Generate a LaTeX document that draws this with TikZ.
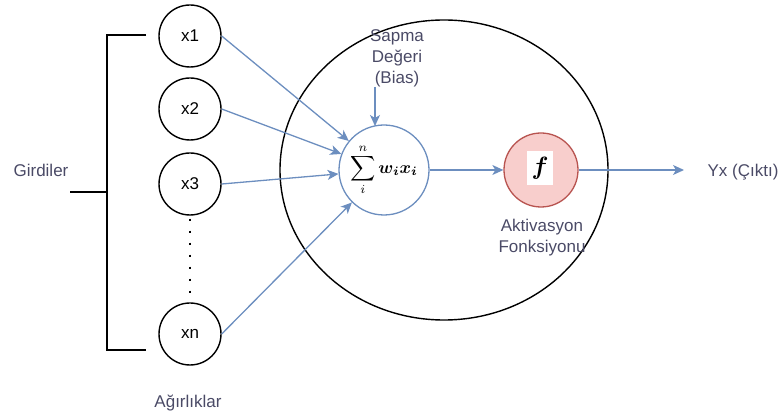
\documentclass[tikz,border=0pt]{standalone}
\usepackage{graphicx}
\usepackage{amsmath}
\usepackage{fontspec}
\setmainfont{Liberation Sans}
\usetikzlibrary{arrows.meta,shapes.geometric}
\definecolor{txt}{HTML}{4A4A66}
\definecolor{edgeblue}{HTML}{6C8EBF}
\definecolor{redfill}{HTML}{F8CECC}
\definecolor{redline}{HTML}{B85450}
\tikzset{
  label text/.style={text=txt, font=\fontsize{17}{21}\selectfont, align=center, inner sep=0pt},
  inputnode/.style={circle, draw=black, line width=1.4pt, minimum size=62pt, inner sep=0pt,
                    font=\fontsize{17}{20}\selectfont},
  flow/.style={draw=edgeblue, line width=1.3pt, -{Stealth[length=11pt, width=10pt, inset=3pt]}},
  bracket/.style={draw=black, line width=2.2pt},
}
\begin{document}
\begin{tikzpicture}[x=1pt, y=-1pt]
  \useasboundingbox (0,0) rectangle (782,419);

  % neuron boundary
  \node (neuron) [ellipse, draw=black, line width=1.4pt, minimum width=328pt, minimum height=300pt,
        inner sep=0pt] at (444,170) {};

  % inputs
  \node (x1) [inputnode] at (190,36) {x1};
  \node (x2) [inputnode] at (190,109) {x2};
  \node (x3) [inputnode] at (190,184) {x3};
  \node (xn) [inputnode] at (190,334) {xn};
  \coordinate (dtop) at ([yshift=-3pt]x3.south);
  \draw [line width=2.6pt, dash pattern=on 2.6pt off 9.4pt] (dtop) -- (xn.north);

  % bracket grouping the inputs
  \coordinate (bt) at (107,35);
  \coordinate (bb) at (107,350);
  \coordinate (bm) at (107,192);
  \coordinate (btr) at (146,35);
  \coordinate (bbr) at (146,350);
  \coordinate (bml) at (70,192);
  \draw [bracket] (btr) -- (bt) -- (bb) -- (bbr);
  \draw [bracket] (bml) -- (bm);
  \node (girdiler) [label text] at (41,170) {Girdiler};

  % weighted sum
  \node (sum) [circle, draw=edgeblue, fill=white, line width=1.3pt, minimum size=90pt, inner sep=0pt]
        at (384,170) {\scalebox{1.75}{$\displaystyle\sum_{i}^{n} \boldsymbol{w_i x_i}$}};

  % activation
  \node (act) [circle, draw=redline, fill=redfill, line width=1.3pt, minimum size=74pt, inner sep=0pt]
        at (541,170) {};
  \node (fbox) [fill=white, minimum width=26pt, minimum height=34pt, inner sep=0pt] at (540,168)
        {\scalebox{2.5}{$\boldsymbol{f}$}};

  % labels
  \node (bias) [label text] at (397,58) {Sapma\\Değeri\\(Bias)};
  \node (actlabel) [label text] at (542,238) {Aktivasyon\\Fonksiyonu};
  \node (out) [label text] at (743,172) {Yx (Çıktı)};
  \node (agir) [label text] at (188,403) {Ağırlıklar};

  % connectors
  \draw [flow] (x1.east) -- (sum);
  \draw [flow] (x2.east) -- (sum);
  \draw [flow] (x3.east) -- (sum);
  \draw [flow] (xn.east) -- (sum);
  \coordinate (bstart) at (375,87);
  \coordinate (bend) at (375,126);
  \draw [flow] (bstart) -- (bend);
  \draw [flow] (sum) -- (act);
  \coordinate (outend) at (684,170);
  \draw [flow] (act.east) -- (outend);
\end{tikzpicture}
\end{document}
